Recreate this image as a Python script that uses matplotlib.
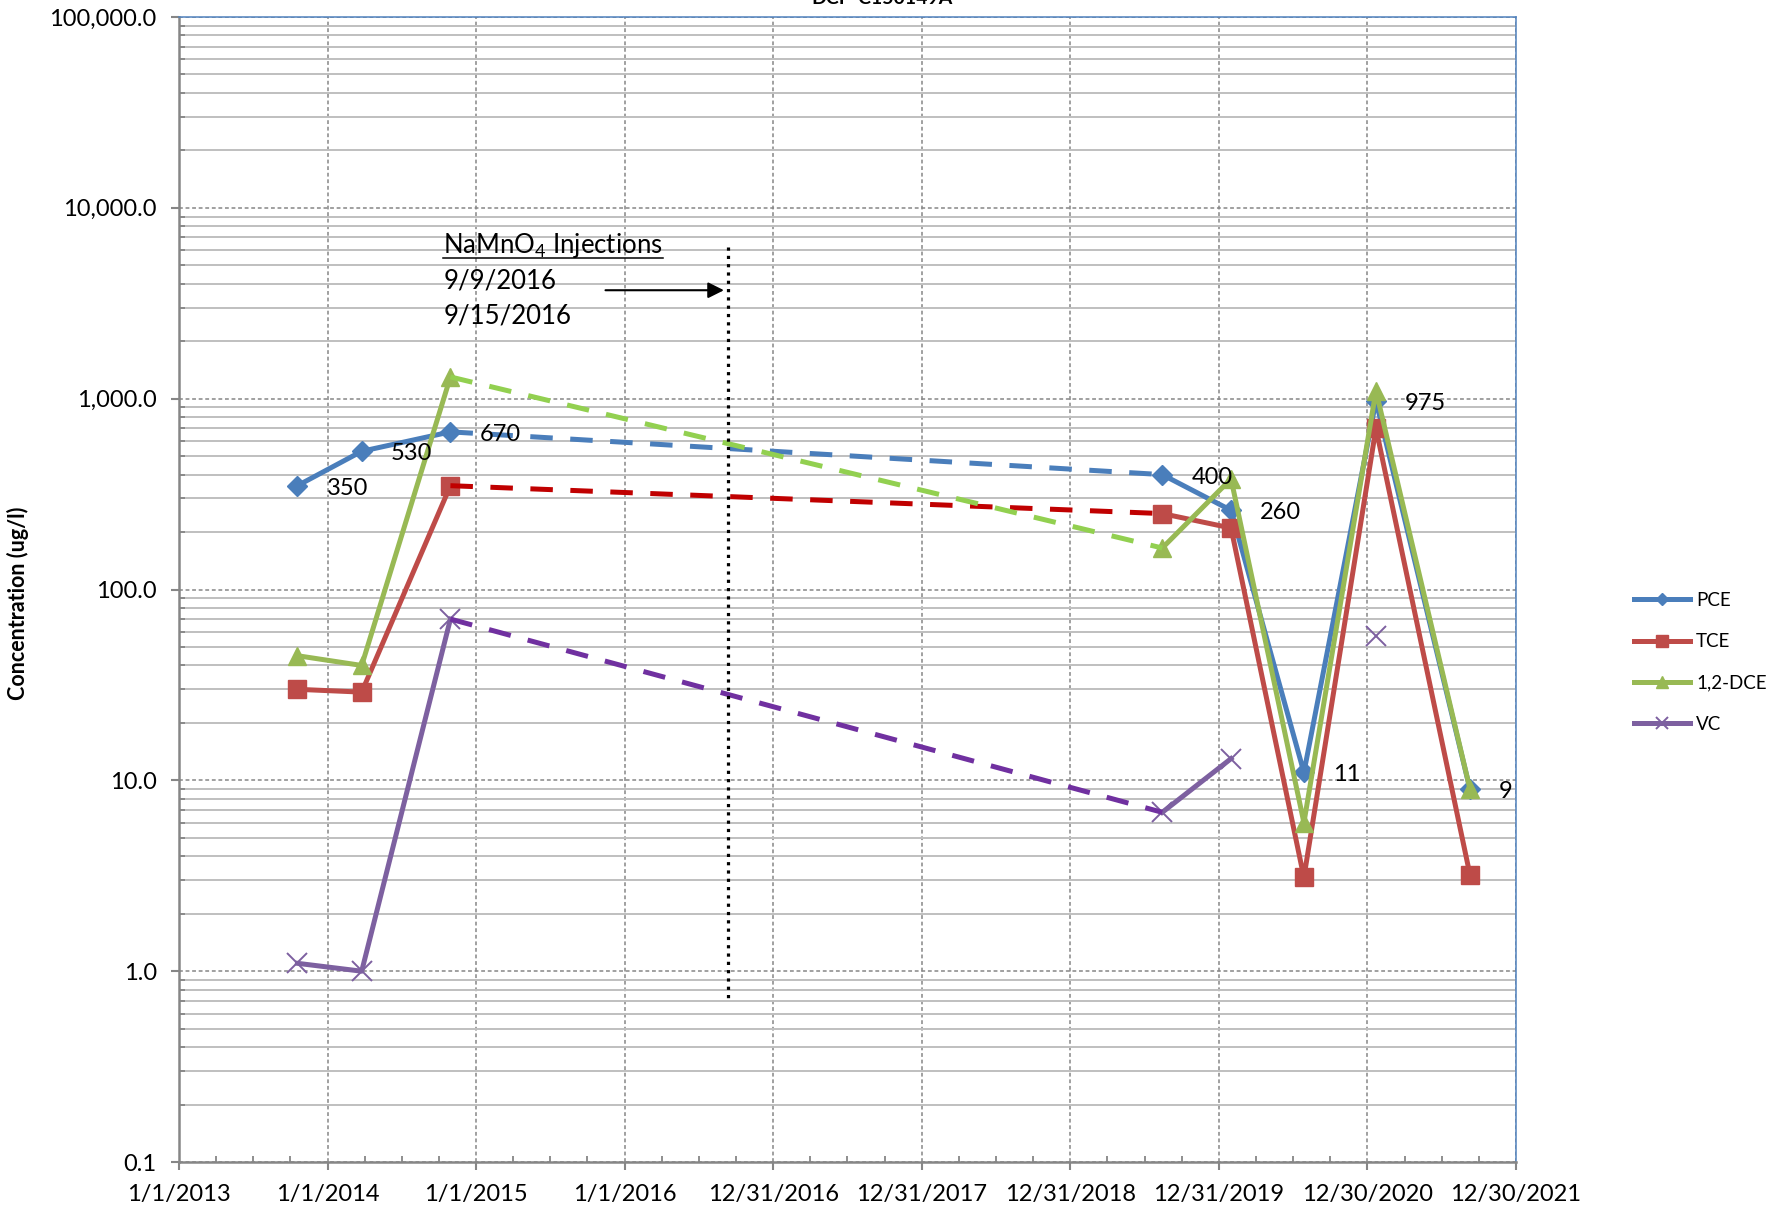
from datetime import datetime

import matplotlib
matplotlib.use('Agg')
import matplotlib.dates as mdates
import matplotlib.ticker as mticker
import numpy as np
from matplotlib import pyplot as plt
from matplotlib.lines import Line2D

plt.rcParams['font.family'] = ['Lato', 'DejaVu Sans']
plt.rcParams['mathtext.fontset'] = 'custom'
plt.rcParams['mathtext.rm'] = 'Lato'
plt.rcParams['mathtext.default'] = 'regular'

# sample dates and concentrations (ug/l)
sample_dates = ['2013-10-19', '2014-03-26', '2014-10-30', '2019-08-14',
                '2020-01-30', '2020-07-27', '2021-01-20', '2021-09-08']
pce = [350, 530, 670, 400, 260, 11, 975, 9]
tce = [30, 29, 350, 250, 210, 3.1, 700, 3.2]
dce = [45, 40, 1300, 165, 380, 6, 1100, 9]
vc = [1.1, 1.0, 70, 6.8, 13, np.nan, 57, np.nan]

series_names = ['PCE', 'TCE', '1,2-DCE', 'VC']
injection_date = '2016-09-12'
injection_lines = ['NaMnO$_4$ Injections', '9/9/2016', '9/15/2016']
axis_start = '2013-01-01'
title = 'DCP-C150149A'


def to_num(s):
    return mdates.date2num(datetime.strptime(s, '%Y-%m-%d'))


x = np.array([to_num(d) for d in sample_dates])
x0 = to_num(axis_start)
x1 = x0 + 9 * 365

fig = plt.figure(figsize=(17.86, 12.13), dpi=100)
ax = fig.add_axes([0.1002, 0.042, 0.7486, 0.944])

styles = [
    (pce, '#4a7ebb', 'D', 10, 1.0, '#4a7ebb'),
    (tce, '#be4b48', 's', 13.5, 1.0, '#c00000'),
    (dce, '#98b954', '^', 13.5, 1.0, '#92d050'),
    (vc, '#7d60a0', 'x', 14, 1.4, '#7030a0'),
]

for name, (vals, c, m, ms, mew, dc) in zip(series_names, styles):
    v = np.array(vals, float)
    kw = dict(color=c, lw=3.6, marker=m, ms=ms, mfc=c, mec=c, mew=mew, zorder=3)
    ax.plot(x[:3], v[:3], label=name, **kw)
    ax.plot(x[3:], v[3:], **kw)

# dashed connectors over the sampling gap
for vals, c, m, ms, mew, dc in styles:
    v = np.array(vals, float)
    ax.plot(x[2:4], v[2:4], color=dc, lw=3.6, dashes=(4.5, 3.5), zorder=4)

# PCE data labels
for xi, v in zip(x, pce):
    ax.annotate(f'{v:g}', (xi, v), xytext=(21, -6.5), textcoords='offset points',
                ha='left', va='baseline', fontsize=17, zorder=5)

# injection marker
xi = to_num(injection_date)
ax.plot([xi, xi], [6200, 0.7], color='k', lw=2.3, ls=(0, (1, 1.6)), zorder=4)
ax.annotate('', xy=(xi - 11, 3700), xytext=(to_num('2015-11-15'), 3700),
            arrowprops=dict(arrowstyle='-|>', color='k', lw=1.5,
                            mutation_scale=24, shrinkA=0, shrinkB=0))
txts = []
for i, s in enumerate(injection_lines):
    txts.append(ax.text(0.1977, 0.7936 - i * 0.03057, s, transform=ax.transAxes,
                        fontsize=18.5, va='baseline', ha='left'))

ax.set_yscale('log')
ax.set_ylim(0.1, 100000)
ax.set_xlim(x0, x1)

ax.yaxis.set_major_locator(mticker.LogLocator(base=10, numticks=10))
ax.yaxis.set_minor_locator(mticker.LogLocator(base=10, subs=np.arange(2, 10), numticks=20))
ax.yaxis.set_major_formatter(mticker.FuncFormatter(lambda v, _: f'{v:,.1f}'))
ax.yaxis.set_minor_formatter(mticker.NullFormatter())

ax.xaxis.set_major_locator(mticker.FixedLocator(np.arange(x0, x1 + 1, 365)))
ax.xaxis.set_minor_locator(mticker.FixedLocator(np.arange(x0, x1 + 1, 91.25)))
ax.xaxis.set_minor_formatter(mticker.NullFormatter())


def date_label(v, _):
    d = mdates.num2date(v)
    return f'{d.month}/{d.day}/{d.year}'


ax.xaxis.set_major_formatter(mticker.FuncFormatter(date_label))

ax.set_axisbelow(True)
ax.grid(which='major', axis='both', color='#868686', ls=(0, (2.5, 1.8)), lw=1.1)
ax.grid(which='minor', axis='y', color='#bfbfbf', ls='-', lw=1.4)

ax.tick_params(axis='both', which='major', direction='out', length=6, width=1.5,
               color='#868686', labelsize=17)
ax.tick_params(axis='x', which='major', pad=10, labelsize=17)
ax.tick_params(axis='y', which='major', pad=10)
ax.tick_params(axis='both', which='minor', direction='in', length=4, width=1.3,
               color='#868686')

for side in ['left', 'bottom']:
    ax.spines[side].set_color('#868686')
    ax.spines[side].set_linewidth(1.8)
for side in ['top', 'right']:
    ax.spines[side].set_color('#4f81bd')
    ax.spines[side].set_linewidth(1.1)

ax.set_ylabel('Concentration (ug/l)', fontsize=15.5, fontweight='bold')
ax.yaxis.set_label_coords(-0.112, 0.488)

fig.legend(loc='center left', bbox_to_anchor=(0.915, 0.454), frameon=False,
           fontsize=13.5, handlelength=3.0, handletextpad=0.3, labelspacing=1.3,
           borderaxespad=0, borderpad=0, markerscale=0.65)

fig.text(0.494, 1 - 3.5 / 1213, title, ha='center', va='baseline',
         fontsize=14, fontweight='bold')

# underline the first line of the injection note
fig.canvas.draw()
bb = txts[0].get_window_extent()
base_y = ax.transAxes.transform((0, 0.7936))[1] - 4.7
inv = fig.transFigure.inverted()
(ux0, uy), (ux1, _) = inv.transform([(bb.x0, base_y), (bb.x1, base_y)])
fig.add_artist(Line2D([ux0, ux1], [uy, uy], color='k', lw=1.1,
                      transform=fig.transFigure))

fig.savefig('out.png', dpi=100)
